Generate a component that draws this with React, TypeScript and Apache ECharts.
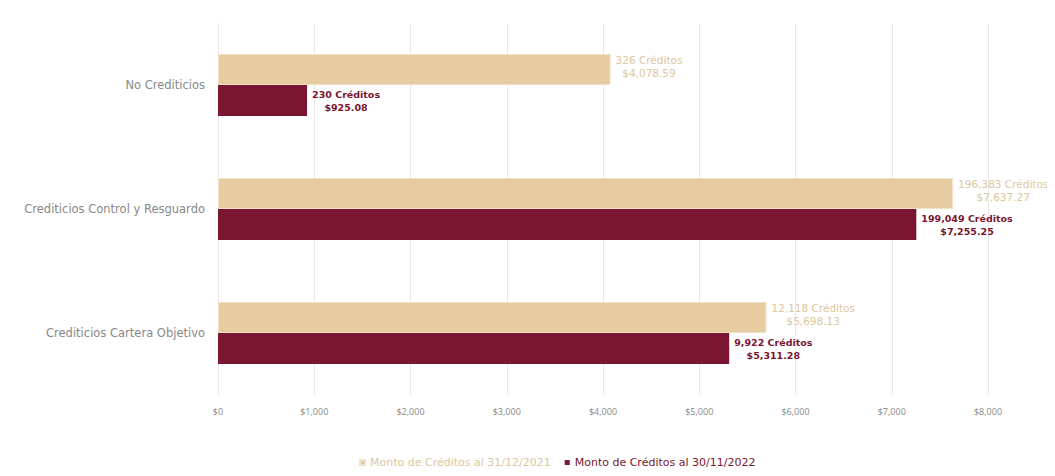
import React, { useEffect, useRef } from "react";
import * as echarts from "echarts";

const categories = ["No Crediticios", "Crediticios Control y Resguardo", "Crediticios Cartera Objetivo"];
const seriesNames = ["Monto de Créditos al 31/12/2021", "Monto de Créditos al 30/11/2022"];
const montoAnterior = [4078.59, 7637.27, 5698.13];
const creditosAnterior = ["326", "196,383", "12,118"];
const montoActual = [925.08, 7255.25, 5311.28];
const creditosActual = ["230", "199,049", "9,922"];
const xTicks = [0, 1000, 2000, 3000, 4000, 5000, 6000, 7000, 8000];

const TAN = "#e6cca0";
const MAROON = "#7a1631";
const WIDE = "DejaVu Sans";

const fmt = (v: number) =>
  "$" + v.toLocaleString("en-US", { minimumFractionDigits: 2, maximumFractionDigits: 2 });

export default function App() {
  const ref = useRef<HTMLDivElement>(null);
  useEffect(() => {
    if (!ref.current) return;
    const chart = echarts.init(ref.current, undefined, { renderer: "svg" });
    chart.setOption({
      animation: false,
      textStyle: { fontFamily: "Open Sans" },
      grid: { left: 210, right: 59, top: 15, bottom: 81, containLabel: false },
      legend: {
        bottom: 3,
        left: 346,
        itemWidth: 5,
        itemHeight: 5,
        icon: "rect",
        itemGap: 14,
        textStyle: { fontSize: 11, fontFamily: WIDE, color: MAROON },
        data: [
          { name: seriesNames[0], textStyle: { color: "#e0c69c" } },
          { name: seriesNames[1], textStyle: { color: MAROON } },
        ],
      },
      xAxis: {
        type: "value",
        min: xTicks[0],
        max: xTicks[xTicks.length - 1],
        interval: 1000,
        axisLine: { show: false },
        axisTick: { show: false },
        splitLine: { lineStyle: { color: "#e8e8e8" } },
        axisLabel: {
          color: "#888",
          fontSize: 9,
          margin: 12,
          formatter: (v: number) => "$" + v.toLocaleString("en-US"),
        },
      },
      yAxis: {
        type: "category",
        inverse: true,
        data: categories,
        axisLine: { show: true, lineStyle: { color: "#e8e8e8" } },
        axisTick: { show: false },
        axisLabel: { color: "#888", fontSize: 11.5, fontFamily: WIDE, margin: 13 },
      },
      series: [
        {
          name: seriesNames[0],
          type: "bar",
          data: montoAnterior,
          barGap: "0%",
          barCategoryGap: "50%",
          itemStyle: { color: TAN, borderColor: "#f0e2c8", borderWidth: 1 },
          label: {
            show: true,
            position: "right",
            distance: 5,
            offset: [0, -3],
            formatter: (p: any) =>
              `{a|${creditosAnterior[p.dataIndex]} Créditos}\n{a|${fmt(p.value)}}`,
            rich: {
              a: { align: "center", color: "#e0c69c", fontSize: 10.5, fontFamily: WIDE, lineHeight: 13 },
            },
          },
        },
        {
          name: seriesNames[1],
          type: "bar",
          data: montoActual,
          itemStyle: { color: MAROON },
          label: {
            show: true,
            position: "right",
            distance: 5,
            formatter: (p: any) =>
              `{a|${creditosActual[p.dataIndex]} Créditos}\n{a|${fmt(p.value)}}`,
            rich: {
              a: {
                align: "center",
                color: MAROON,
                fontSize: 9.5,
                fontFamily: WIDE,
                fontWeight: "bold",
                lineHeight: 13,
              },
            },
          },
        },
      ],
    });
    return () => chart.dispose();
  }, []);
  return <div ref={ref} style={{ width: 1039, height: 468, marginBottom: -8 }} />;
}
